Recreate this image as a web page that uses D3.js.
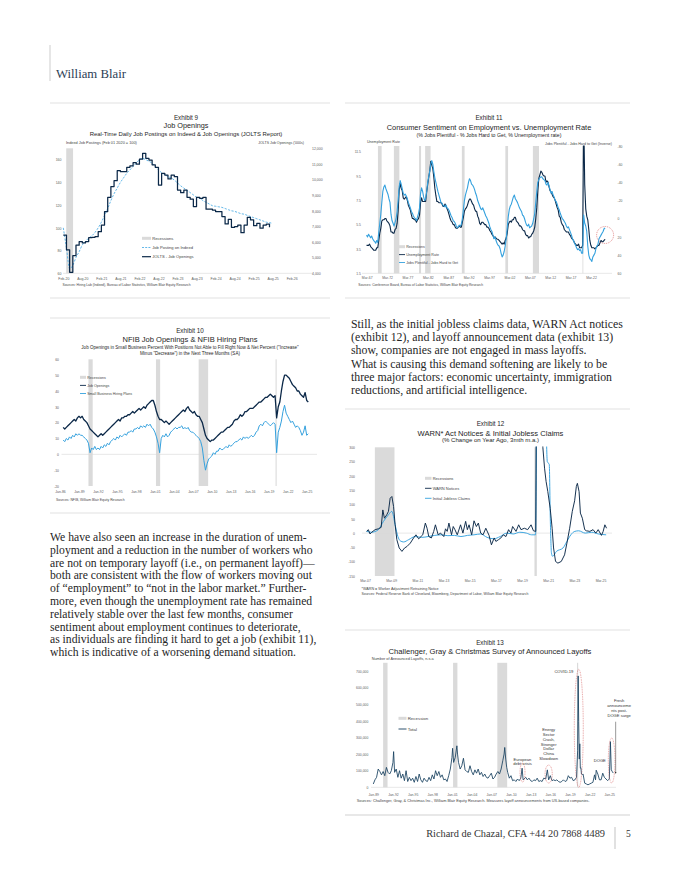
<!DOCTYPE html>
<html><head><meta charset="utf-8">
<script src="https://cdn.jsdelivr.net/npm/d3@7/dist/d3.min.js"></script>
<style>html,body{margin:0;padding:0;background:#fff;} svg{display:block}</style>
</head><body>
<svg id="page" width="680" height="880" viewBox="0 0 680 880"></svg>
<script>
// ================= DATA =================
// Exhibit 9 (monthly from Feb-2020)
const ex9Ticks = ['Feb-20','Aug-20','Feb-21','Aug-21','Feb-22','Aug-22','Feb-23','Aug-23','Feb-24','Aug-24','Feb-25','Aug-25','Feb-26'];
const ex9LeftTicks = [60,80,100,120,140,160];
const ex9RightTicks = [4000,5000,6000,7000,8000,9000,10000,11000,12000];
const ex9Start = 'Feb-20';
const ex9Jolts = [6450,5500,4060,5130,5800,6030,5940,6030,6280,6300,6340,6660,
  7090,7950,8860,9550,9930,10570,10500,10500,10780,10870,11080,10980,
  11300,11680,11360,11250,10940,10780,9650,10400,10290,10040,10290,10180,
  9330,9160,9330,8860,8740,8270,8860,8800,8860,8100,8100,8050,
  7950,7950,7630,7160,7450,6940,6990,7090,6600,7090,7580,7420,
  7050,7200,6890,7090,7150,6940];
const ex9Indeed = [100,82,64,67,74,79,85,88,91,93,96,100,
  105,111,117,124,130,135,140,144,148,151,154,157,
  160,161,160,158.5,157,154,151,148.5,147,145,144,142,
  139.5,137,135,133,131,129,127,126,124,122.5,121,119.5,
  119,118.5,118,117,116,115,114.5,113.5,112.5,112,111,110,
  109,108,107,106,105,104.5,104];
const ex9Recessions = [[2020.16, 2020.34]];

// Exhibit 11 (quarterly from 1967 Q1)
const ex11Ticks = ['Mar-67','Mar-72','Mar-77','Mar-82','Mar-87','Mar-92','Mar-97','Mar-02','Mar-07','Mar-12','Mar-17','Mar-22'];
const ex11LeftTicks = [1.5,3.5,5.5,7.5,9.5,11.5];
const ex11RightTicks = [-80,-60,-40,-20,0,20,40,60];
const ex11Start = 1967.125;
const ex11Unemp = [
 3.8,3.8,3.8,3.9, 3.7,3.6,3.5,3.4, 3.4,3.4,3.6,3.6, 4.2,4.8,5.2,5.8, 5.9,5.9,6.0,6.0,
 5.8,5.7,5.6,5.4, 4.9,4.9,4.8,4.8, 5.1,5.2,5.6,6.6, 8.3,8.9,8.5,8.3, 7.7,7.6,7.7,7.8,
 7.5,7.1,6.9,6.7, 6.3,6.0,6.0,5.9, 5.9,5.7,5.9,6.0, 6.3,7.3,7.7,7.4, 7.4,7.4,7.4,8.2,
 8.8,9.4,9.9,10.7, 10.4,10.1,9.4,8.5, 7.9,7.4,7.4,7.3, 7.3,7.3,7.2,7.0, 7.0,7.2,7.0,6.8,
 6.6,6.3,6.0,5.8, 5.7,5.5,5.5,5.3, 5.2,5.2,5.3,5.4, 5.3,5.3,5.7,6.1, 6.6,6.8,6.9,7.1,
 7.4,7.6,7.6,7.4, 7.2,7.1,6.8,6.6, 6.6,6.2,6.0,5.6, 5.5,5.7,5.7,5.6, 5.5,5.5,5.3,5.3,
 5.2,5.0,4.9,4.7, 4.6,4.4,4.5,4.4, 4.3,4.3,4.2,4.1, 4.0,3.9,4.0,3.9, 4.2,4.4,4.8,5.5,
 5.7,5.8,5.7,5.9, 5.9,6.1,6.1,5.8, 5.7,5.6,5.4,5.4, 5.3,5.1,5.0,5.0, 4.7,4.6,4.6,4.4,
 4.5,4.5,4.7,4.8, 5.0,5.3,6.0,6.9, 8.3,9.3,9.6,9.9, 9.8,9.6,9.5,9.5, 9.0,9.1,9.0,8.6,
 8.3,8.2,8.0,7.8, 7.7,7.5,7.2,6.9, 6.7,6.2,6.1,5.7, 5.5,5.4,5.1,5.0, 4.9,4.9,4.9,4.7,
 4.6,4.4,4.3,4.2, 4.0,3.9,3.8,3.8, 3.9,3.6,3.6,3.6, 3.8,14.8,8.8,6.8, 6.2,5.9,5.1,4.2,
 3.8,3.6,3.6,3.6, 3.5,3.6,3.7,3.8, 3.8,4.0,4.2,4.1, 4.1,4.2,4.3];
const ex11Diff = [
 18,20,17,19, 21,19,22,24, 25,27,24,26, 15,5,-5,-18, -30,-35,-37,-33,
 -30,-27,-22,-18, -5,2,5,8, 4,0,-8,-20, -35,-42,-38,-33, -28,-26,-27,-25,
 -22,-18,-15,-12, -8,-6,-3,-1, 0,2,-2,-6, -12,-28,-34,-30, -24,-20,-22,-30,
 -40,-46,-52,-60, -64,-60,-52,-45, -40,-35,-30,-26, -22,-18,-17,-15, -14,-13,-15,-12,
 -11,-9,-6,-3, -1,2,3,5, 8,10,9,7, 8,6,0,-10, -20,-26,-30,-34,
 -40,-44,-42,-38, -37,-35,-32,-28, -25,-20,-17,-14, -11,-10,-12,-9, -6,-3,-1,2,
 5,9,12,14, 18,22,20,24, 27,29,30,33, 38,42,40,36, 30,22,10,-2,
 -10,-14,-16,-20, -24,-26,-22,-20, -18,-15,-12,-10, -8,-4,-3,0, 4,7,8,6,
 10,9,8,5, 0,-6,-18,-30, -40,-43,-45,-46, -46,-44,-43,-42, -38,-37,-40,-36,
 -32,-28,-30,-26, -24,-20,-19,-16, -12,-10,-6,-3, 0,1,3,5, 8,10,9,12,
 15,18,22,24, 27,29,32,34, 33,35,34,38, 38,-4,5,8, 14,30,40,44,
 45,47,42,40, 38,33,30,28, 22,20,18,16, 14,11,10];
const ex11Recessions = [[1969.92,1970.83],[1973.83,1975.17],[1980.0,1980.5],[1981.5,1982.83],[1990.5,1991.17],[2001.17,2001.83],[2007.92,2009.42],[2020.08,2020.25]];

// Exhibit 10 (quarterly from mid-1986)
const ex10Ticks = ['Jan-86','Jan-89','Jan-92','Jan-95','Jan-98','Jan-01','Jan-04','Jan-07','Jan-10','Jan-13','Jan-16','Jan-19','Jan-22','Jan-25'];
const ex10YTicks = [-20,-10,0,10,20,30,40,50,60];
const ex10Start = 1986.5;
const ex10Openings = [17,16,
 17,18,19,20, 21,22,21,23, 24,23,24,22, 21,20,18,16, 15,14,13,12,
 11,12,13,12, 13,14,15,16, 17,18,19,20, 21,22,21,23, 23,24,24,25,
 25,26,27,26, 27,28,29,28, 29,30,29,31, 32,33,34,34, 31,27,24,22,
 22,21,20,21, 20,19,20,21, 22,23,24,25, 26,27,28,27, 29,30,28,27,
 26,27,25,24, 24,22,20,16, 12,10,9,8, 9,9,10,11, 12,13,14,14,
 15,16,17,17, 18,19,21,22, 22,23,25,24, 25,27,27,28, 29,29,29,30,
 31,32,33,33, 34,35,36,36, 37,38,37,36, 37,23,30,33, 40,46,50,50,
 49,48,46,44, 43,42,40,40, 38,37,36,39, 34,33];
const ex10Hiring = [9,8,
 10,9,11,10, 12,11,13,12, 13,12,12,11, 10,9,7,1, 4,3,5,3,
 4,3,5,4, 6,5,7,6, 8,9,10,9, 11,10,12,11, 12,13,12,14,
 14,15,14,16, 16,17,16,18, 17,18,17,19, 18,19,17,16, 14,11,7,1,
 10,12,11,13, 11,12,14,15, 16,17,16,17, 17,18,16,17, 16,17,15,14,
 14,13,12,11, 10,8,4,-4, -10,-6,-3,-2, -1,1,0,2, 2,4,3,3,
 4,5,4,6, 5,6,7,8, 8,9,10,9, 11,10,11,10, 11,12,11,12,
 14,15,18,19, 18,20,21,20, 19,18,19,20, 19,1,14,17, 21,27,31,26,
 24,22,20,21, 19,17,18,17, 15,12,14,18, 12,13];
const ex10Recessions = [[1990.5,1991.17],[2001.17,2001.83],[2007.92,2009.42],[2020.08,2020.25]];

// Exhibit 12
const ex12Ticks = ['Mar-07','Mar-09','Mar-11','Mar-13','Mar-15','Mar-17','Mar-19','Mar-21','Mar-23','Mar-25'];
const ex12YTicks = [-150,-100,-50,0,50,100,150,200,250,300];
const warnT = [
 2007.29,2007.42,2007.55,2007.68,2007.94,
 2008.19,2008.40,2008.53,2008.65,2008.83,2008.96,
 2009.09,2009.22,2009.35,2009.47,2009.60,2009.78,2009.99,
 2010.19,2010.37,2010.63,2010.88,
 2011.06,2011.27,2011.58,2011.78,2011.91,
 2012.04,2012.24,2012.42,2012.55,2012.76,2012.94,
 2013.19,2013.32,2013.45,2013.58,2013.78,2013.91,
 2014.04,2014.22,2014.47,2014.65,2014.86,2014.99,
 2015.12,2015.32,2015.50,2015.68,2015.83,
 2016.01,2016.19,2016.40,2016.65,2016.83,
 2017.04,2017.17,2017.37,2017.55,2017.73,2017.94,
 2018.14,2018.32,2018.45,2018.71,2018.91,
 2019.09,2019.35,2019.60,2019.86,
 2020.04,2020.22,2020.30,2020.45,2020.60,2020.76,2020.89,
 2021.01,2021.14,2021.32,2021.47,2021.58,2021.73,2021.91,
 2022.17,2022.42,2022.60,2022.81,
 2023.01,2023.19,2023.32,2023.40,2023.53,2023.63,2023.78,2023.96,
 2024.09,2024.35,2024.60,2024.81,2024.99,
 2025.24,2025.37,2025.50,2025.63];
const warnV = [
 6,12,-3,3,12,
 15,20,81,52,64,76,
 122,128,93,29,-23,-52,-64,
 -52,-47,-35,-17,
 -6,-20,-6,35,17,
 -12,-17,6,29,-6,0,
 -12,15,6,35,-6,23,
 12,-6,29,0,41,12,
 29,-6,43,23,35,
 0,-6,17,-8,-41,
 -17,-29,-23,-17,-6,-12,
 12,0,23,6,29,
 12,17,12,29,
 8,6,900,1400,800,300,227,
 180,145,87,17,-52,-99,-105,
 -99,-76,-35,17,
 76,113,163,174,145,70,52,12,
 8,6,12,0,12,
 -8,6,29,17];
const claimsT = [2007.29,2007.68, 2008.19,2008.58,2008.96, 2009.22,2009.47,2009.68,2009.86, 2010.12,2010.5,
 2011.0,2011.5, 2012.0,2012.5, 2013.0,2013.5, 2014.0,2014.5, 2015.0,2015.5, 2016.0,2016.5, 2017.0,2017.5,
 2018.0,2018.5, 2019.0,2019.5,2019.9, 2020.2,2020.3,2020.5,2020.8,
 2021.0,2021.1,2021.25,2021.33,2021.42,2021.5,2021.8, 2022.3,2022.6,2022.9, 2023.2,2023.5, 2024.0,2024.5, 2025.0,2025.6];
const claimsV = [6,3, 12,41,64, 76,29,-12,-27, -31,-23,
 -12,-15, -12,-8, -6,-9, -8,-12, -8,-6, -3,-15, -20,-12,
 0,-3, 3,0,-6, -6,500,1500,900,
 400,250,240,50,-70,-81,-64, -52,-29,-6, 6,8, 0,3, -3,-6];
const ex12Recessions = [[2007.92,2009.42],[2020.12,2020.3]];

// Exhibit 13 (announced layoffs, thousands)
const ex13Ticks = ['Jan-89','Jan-92','Jan-95','Jan-98','Jan-01','Jan-04','Jan-07','Jan-10','Jan-13','Jan-16','Jan-19','Jan-22','Jan-25'];
const ex13YTicks = [0,100000,200000,300000,400000,500000,600000,700000];
const chT = [
 1989.0,1989.25,1989.5,1989.75, 1990.0,1990.25,1990.5,1990.75, 1991.0,1991.25,1991.5,1991.75,
 1992.0,1992.1,1992.25,1992.5,1992.75, 1993.0,1993.25,1993.5,1993.75, 1994.0,1994.25,1994.5,1994.75,
 1995.0,1995.25,1995.5,1995.75, 1996.0,1996.25,1996.5,1996.75, 1997.0,1997.25,1997.5,1997.75,
 1998.0,1998.25,1998.5,1998.75, 1999.0,1999.25,1999.5,1999.75, 2000.0,2000.25,2000.5,2000.75,
 2001.0,2001.1,2001.25,2001.5,2001.75,2001.85, 2002.0,2002.25,2002.5,2002.75, 2003.0,2003.25,2003.5,2003.75,
 2004.0,2004.25,2004.5,2004.75, 2005.0,2005.25,2005.5,2005.75, 2006.0,2006.25,2006.5,2006.75,
 2007.0,2007.25,2007.5,2007.75, 2008.0,2008.25,2008.5,2008.75,2008.95, 2009.05,2009.2,2009.35,2009.5,2009.75,
 2010.0,2010.25,2010.5,2010.75, 2011.0,2011.25,2011.5,2011.7,2011.85, 2012.0,2012.25,2012.5,2012.75,
 2013.0,2013.25,2013.5,2013.75, 2014.0,2014.25,2014.5,2014.75, 2015.0,2015.3,2015.55,2015.75,
 2016.0,2016.25,2016.5,2016.75, 2017.0,2017.25,2017.5,2017.75, 2018.0,2018.25,2018.5,2018.75,
 2019.0,2019.25,2019.5,2019.75, 2020.0,2020.17,2020.25,2020.33,2020.42,2020.5,2020.58,2020.67,2020.75,2020.9,
 2021.0,2021.25,2021.5,2021.75, 2022.0,2022.25,2022.5,2022.75,2022.9, 2023.0,2023.25,2023.5,2023.75,
 2024.0,2024.25,2024.5,2024.75, 2025.0,2025.1,2025.17,2025.3,2025.45,2025.6];
const chV = [
 20,45,60,110, 95,75,95,70, 120,90,80,100,
 150,215,90,110,60, 100,55,80,40, 100,35,60,40,
 55,30,65,35, 80,45,30,55, 40,35,60,40,
 75,50,100,70, 95,60,75,45, 50,35,70,110,
 180,235,150,180,250,200, 150,110,130,175, 105,95,90,130,
 95,75,105,85, 110,75,90,65, 80,60,55,70,
 85,50,60,80, 95,80,110,160,200, 240,170,120,90,55,
 70,40,45,35, 50,40,55,115,45, 50,60,45,55,
 40,35,45,40, 55,35,40,35, 55,50,105,45,
 70,40,45,40, 45,35,30,35, 45,35,40,70,
 55,60,40,45, 60,220,671,397,170,262,115,118,80,77,
 80,25,20,15, 20,25,30,75,45, 103,80,45,45,
 85,60,50,40, 50,170,275,105,95,86];
const ex13Recessions = [[1990.5,1991.17],[2001.17,2001.83],[2007.92,2009.42],[2020.08,2020.25]];
const ex13Notes = [
 {lines:['European','debt crisis'], t0:2011.38, t1:2012.14, v0:32000, v1:146000, pos:'top'},
 {lines:['Energy','Sector','Crash,','Stronger','Dollar','China','Slowdown'], t0:2015.2, t1:2016.3, v0:26000, v1:134000, pos:'above'},
 {lines:['COVID-19'], t0:2019.66, t1:2021.03, v0:0, v1:711000, pos:'lefttop'},
 {lines:['DOGE'], t0:2024.85, t1:2025.87, v0:26000, v1:297000, pos:'left'}
];
const ex13Fresh = {lines:['Fresh','announceme','nts post-','DOGE surge'], t:2025.97, vFrom:395000, vTo:84000};

// ================= DRAWING =================
const svg = d3.select('#page');
const SANS = '"Liberation Sans", Arial, Helvetica, sans-serif';
const SERIF = '"Liberation Serif", "Times New Roman", serif';
const NAVY = '#0b2848', LBLUE = '#34a1de', REC = '#dadada', TICK = '#606060', INK = '#262626';
const monthIdx = {Jan:0,Feb:1,Mar:2,Apr:3,May:4,Jun:5,Jul:6,Aug:7,Sep:8,Oct:9,Nov:10,Dec:11};
function lblYear(s){ const p = s.split('-'); let y = +p[1]; y += y > 50 ? 1900 : 2000; return y + monthIdx[p[0]]/12; }

function T(g, x, y, s, fs, o = {}) {
  const t = g.append('text').attr('x', x).attr('y', y).text(s).attr('font-size', fs)
    .attr('font-family', o.ff || SANS).attr('fill', o.fill || INK).attr('text-anchor', o.anchor || 'start');
  if (o.weight) t.attr('font-weight', o.weight);
  if (o.w) { const w = t.node().getComputedTextLength(); if (w > 0) t.attr('font-size', fs * o.w / w); }
  return t;
}
function hline(x0, x1, y, c, w) { svg.append('line').attr('x1', x0).attr('x2', x1).attr('y1', y).attr('y2', y).attr('stroke', c || '#cfcfcf').attr('stroke-width', w || 0.6); }
function recBands(g, x, recs, yTop, yBot) {
  g.append('g').selectAll('rect').data(recs).join('rect')
    .attr('x', d => x(d[0])).attr('width', d => Math.max(0.8, x(d[1]) - x(d[0])))
    .attr('y', yTop).attr('height', yBot - yTop).attr('fill', REC);
}
function xAxisAt(g, x, labels, yPos, fs) {
  const vals = labels.map(lblYear);
  const ax = d3.axisBottom(x).tickValues(vals).tickFormat(v => labels[vals.indexOf(v)]).tickSize(0).tickPadding(0);
  const a = g.append('g').attr('transform', `translate(0,${yPos})`).call(ax);
  a.select('.domain').remove();
  a.selectAll('text').attr('y', 0).attr('dy', 0).attr('font-size', fs).attr('font-family', SANS).attr('fill', TICK);
}
function yAxisAt(g, y, vals, xPos, fs, side, fmt) {
  const ax = (side === 'left' ? d3.axisLeft(y) : d3.axisRight(y)).tickValues(vals).tickFormat(fmt || (d => d)).tickSize(0).tickPadding(0);
  const a = g.append('g').attr('transform', `translate(${xPos},0)`).call(ax);
  a.select('.domain').remove();
  a.selectAll('text').attr('x', 0).attr('dy', '0.35em').attr('font-size', fs).attr('font-family', SANS).attr('fill', TICK);
}
let clipN = 0;
function clipRect(x0, y0, x1, y1) {
  const id = 'c' + (clipN++);
  svg.append('clipPath').attr('id', id).append('rect').attr('x', x0).attr('y', y0).attr('width', x1 - x0).attr('height', y1 - y0);
  return id;
}
function path(g, pts, x, y, color, w, opt = {}) {
  const ln = d3.line().x(d => x(d[0])).y(d => y(d[1])).curve(opt.curve || d3.curveLinear);
  const p = g.append('path').datum(pts).attr('d', ln).attr('fill', 'none').attr('stroke', color)
    .attr('stroke-width', w).attr('stroke-linejoin', 'round');
  if (opt.dash) p.attr('stroke-dasharray', opt.dash);
  if (opt.clip) p.attr('clip-path', `url(#${opt.clip})`);
  return p;
}
function legend(g, x, y0, dy, items, fs, sw) {
  items.forEach((it, i) => {
    const y = y0 + i * dy, w = sw || 8;
    if (it.type === 'rect') g.append('rect').attr('x', x).attr('y', y - 1.5).attr('width', w).attr('height', 3).attr('fill', REC);
    else {
      const l = g.append('line').attr('x1', x).attr('x2', x + w).attr('y1', y).attr('y2', y).attr('stroke', it.color).attr('stroke-width', it.sw || 0.9);
      if (it.dash) l.attr('stroke-dasharray', it.dash);
    }
    T(g, x + w + 1.2, y + fs * 0.36, it.label, fs, {fill: '#444'});
  });
}
const ser = (start, step, arr) => arr.map((v, i) => [start + i * step, v]);

// ---------- Header / footer ----------
svg.append('line').attr('x1', 50).attr('x2', 50).attr('y1', 45).attr('y2', 81).attr('stroke', '#b8b8b8').attr('stroke-width', 0.7);
T(svg, 56, 78, 'William Blair', 11.5, {ff: SERIF, fill: '#2c3e55', w: 70});
hline(345, 630, 815, '#bdbdbd', 0.7);
T(svg, 605, 837, 'Richard de Chazal, CFA  +44 20 7868 4489', 9.5, {ff: SERIF, fill: '#333', anchor: 'end', w: 179});
svg.append('line').attr('x1', 615).attr('x2', 615).attr('y1', 827).attr('y2', 849).attr('stroke', '#9a9a9a').attr('stroke-width', 0.6);
T(svg, 626, 837, '5', 9.5, {ff: SERIF, fill: '#333'});

// frame lines
hline(50, 330, 103); hline(345, 630, 103);
hline(50, 330, 298); hline(345, 630, 298);
hline(50, 330, 318); hline(50, 330, 513);
hline(345, 630, 409); hline(345, 630, 630);

// ---------- Body text ----------
const leftPara = [
 'We have also seen an increase in the duration of unem-',
 'ployment and a reduction in the number of workers who',
 'are not on temporary layoff (i.e., on permanent layoff)\u2014',
 'both are consistent with the flow of workers moving out',
 'of \u201cemployment\u201d to \u201cnot in the labor market.\u201d Further-',
 'more, even though the unemployment rate has remained',
 'relatively stable over the last few months, consumer',
 'sentiment about employment continues to deteriorate,',
 'as individuals are finding it hard to get a job (exhibit 11),',
 'which is indicative of a worsening demand situation.'];
const rightPara = [
 'Still, as the initial jobless claims data, WARN Act notices',
 '(exhibit 12), and layoff announcement data (exhibit 13)',
 'show, companies are not engaged in mass layoffs.',
 'What is causing this demand softening are likely to be',
 'three major factors: economic uncertainty, immigration',
 'reductions, and artificial intelligence.'];
function para(lines, x, y0, dy, targetW) {
  const first = T(svg, x, y0, lines[0], 11, {ff: SERIF, fill: '#262626', w: targetW});
  const fs = +first.attr('font-size');
  lines.slice(1).forEach((s, i) => T(svg, x, y0 + (i + 1) * dy, s, fs, {ff: SERIF, fill: '#262626'}));
}
para(leftPara, 50, 541, 12.8, 257);
para(rightPara, 351, 327.7, 13.3, 272);

// ---------- Exhibit 9 ----------
(function(){
  const g = svg.append('g');
  const x = d3.scaleLinear().domain([lblYear('Feb-20'), lblYear('Feb-26')]).range([63.3, 291.7]);
  const yL = d3.scaleLinear().domain([60, 170]).range([273.3, 148.3]);
  const yR = d3.scaleLinear().domain([4000, 12000]).range([273.3, 148.3]);
  T(g, 186, 120, 'Exhibit 9', 6.3, {anchor: 'middle'});
  T(g, 186, 128.4, 'Job Openings', 7.4, {anchor: 'middle', w: 45});
  T(g, 186, 135.5, 'Real-Time Daily Job Postings on Indeed & Job Openings (JOLTS Report)', 5.6, {anchor: 'middle', w: 193});
  T(g, 66, 143.5, 'Indeed Job Postings (Feb 01 2020 = 100)', 3.5, {fill: '#444', w: 71});
  T(g, 304, 144, "JOLTS Job Openings ('000s)", 3.5, {fill: '#444', anchor: 'end', w: 46});
  recBands(g, x, ex9Recessions, 148.3, 273.3);
  g.append('line').attr('x1', 63).attr('x2', 313).attr('y1', 273.3).attr('y2', 273.3).attr('stroke', '#d6d6d6').attr('stroke-width', 0.6);
  yAxisAt(g, yL, ex9LeftTicks, 61.5, 3.5, 'left');
  yAxisAt(g, yR, ex9RightTicks, 312, 3.5, 'right', d3.format(','));
  xAxisAt(g, x, ex9Ticks, 279.6, 3.5);
  const t0 = lblYear(ex9Start);
  path(g, ser(t0, 1/12, ex9Indeed), x, yL, '#52b0e6', 0.9, {dash: '2.2,1.4', curve: d3.curveMonotoneX});
  path(g, ser(t0, 1/12, ex9Jolts), x, yR, NAVY, 1.25, {curve: d3.curveStepAfter});
  legend(g, 142, 238.3, 9.2, [
    {type: 'rect', label: 'Recessions'},
    {color: '#52b0e6', dash: '2,1.2', label: 'Job Posting on Indeed'},
    {color: NAVY, sw: 1.2, label: 'JOLTS - Job Openings'}], 4.1, 9);
  T(g, 62.5, 285.5, 'Sources: Hiring Lab (Indeed), Bureau of Labor Statistics, William Blair Equity Research', 3.3, {fill: '#444', w: 128});
})();

// ---------- Exhibit 11 ----------
(function(){
  const g = svg.append('g');
  const x = d3.scaleLinear().domain([lblYear('Mar-67'), lblYear('Mar-22')]).range([366.7, 591]);
  const yL = d3.scaleLinear().domain([1.5, 12]).range([273.3, 145.6]);
  const yR = d3.scaleLinear().domain([-80, 60]).range([146, 273.3]);
  T(g, 489, 120, 'Exhibit 11', 6.3, {anchor: 'middle'});
  T(g, 489, 130, 'Consumer Sentiment on Employment vs. Unemployment Rate', 7.5, {anchor: 'middle', w: 205});
  T(g, 489, 136.6, '(% Jobs Plentiful - % Jobs Hard to Get, % Unemployment rate)', 4.8, {anchor: 'middle', w: 145});
  T(g, 367, 143, 'Unemployment Rate', 3.4, {fill: '#444', w: 33});
  T(g, 612, 144.5, 'Jobs Plentiful - Jobs Hard to Get (Inverse)', 3.4, {fill: '#444', anchor: 'end', w: 67});
  const cid = clipRect(362, 145.6, 612, 274);
  recBands(g, x, ex11Recessions, 146, 273.3);
  g.append('line').attr('x1', 362).attr('x2', 612).attr('y1', 273.3).attr('y2', 273.3).attr('stroke', '#d6d6d6').attr('stroke-width', 0.6);
  yAxisAt(g, yL, ex11LeftTicks, 361, 3.4, 'left', d3.format('.1f'));
  yAxisAt(g, yR, ex11RightTicks, 617.5, 3.4, 'right');
  xAxisAt(g, x, ex11Ticks, 279.3, 3.4);
  path(g, ser(ex11Start, 0.25, ex11Unemp), x, yL, NAVY, 1.1, {clip: cid});
  path(g, ser(ex11Start, 0.25, ex11Diff), x, yR, LBLUE, 1.1, {clip: cid});
  const last = ex11Unemp.length - 1;
  g.append('ellipse').attr('cx', x(ex11Start + last * 0.25)).attr('cy', yL(4.65)).attr('rx', 8.5).attr('ry', 8.5)
    .attr('fill', 'none').attr('stroke', '#d24b4b').attr('stroke-width', 0.6).attr('stroke-dasharray', '1,0.9');
  legend(g, 399, 246.7, 7.9, [
    {type: 'rect', label: 'Recessions'},
    {color: NAVY, label: 'Unemployment Rate'},
    {color: LBLUE, label: 'Jobs Plentiful - Jobs Hard to Get'}], 3.6, 6);
  T(g, 358.3, 286, 'Sources: Conference Board, Bureau of Labor Statistics, William Blair Equity Research', 3.3, {fill: '#444', w: 125});
})();

// ---------- Exhibit 10 ----------
(function(){
  const g = svg.append('g');
  const x = d3.scaleLinear().domain([lblYear('Jan-86'), lblYear('Jan-25')]).range([60, 306.7]);
  const y = d3.scaleLinear().domain([-20, 60]).range([486, 359.3]);
  T(g, 190, 332.7, 'Exhibit 10', 6.3, {anchor: 'middle'});
  T(g, 190, 342.4, 'NFIB Job Openings & NFIB Hiring Plans', 7.4, {anchor: 'middle', w: 135});
  T(g, 190, 349.4, 'Job Openings in Small Business Percent With Positions Not Able to Fill Right Now & Net Percent ("Increase"', 4.3, {anchor: 'middle', w: 218});
  T(g, 190, 354.6, 'Minus "Decrease") in the Next Three Months (SA)', 4.3, {anchor: 'middle', w: 100});
  recBands(g, x, ex10Recessions, 359.3, 486);
  g.append('line').attr('x1', 61.5).attr('x2', 317).attr('y1', y(0)).attr('y2', y(0)).attr('stroke', '#d6d6d6').attr('stroke-width', 0.6);
  yAxisAt(g, y, ex10YTicks, 59, 3.4, 'left');
  xAxisAt(g, x, ex10Ticks, 493, 3.4);
  path(g, ser(ex10Start, 0.25, ex10Hiring), x, y, LBLUE, 1.0);
  path(g, ser(ex10Start, 0.25, ex10Openings), x, y, NAVY, 1.3);
  legend(g, 80, 377.3, 8.1, [
    {type: 'rect', label: 'Recessions'},
    {color: NAVY, label: 'Job Openings'},
    {color: LBLUE, label: 'Small Business Hiring Plans'}], 3.6, 6);
  T(g, 56, 501.4, 'Sources: NFIB, William Blair Equity Research', 3.3, {fill: '#444', w: 69});
})();

// ---------- Exhibit 12 ----------
(function(){
  const g = svg.append('g');
  const x = d3.scaleLinear().domain([lblYear('Mar-07'), lblYear('Mar-25')]).range([365, 600.5]);
  const y = d3.scaleLinear().domain([-150, 300]).range([576, 447.3]);
  T(g, 490.5, 425.7, 'Exhibit 12', 6.3, {anchor: 'middle'});
  T(g, 490.5, 435.7, 'WARN* Act Notices & Initial Jobless Claims', 7.4, {anchor: 'middle', w: 146});
  T(g, 490.5, 442.4, '(% Change on Year Ago, 3mth m.a.)', 5.2, {anchor: 'middle', w: 97});
  const cid = clipRect(360, 446.5, 615, 577);
  recBands(g, x, ex12Recessions, 447.3, 576);
  g.append('line').attr('x1', 362).attr('x2', 612).attr('y1', y(0)).attr('y2', y(0)).attr('stroke', '#d6d6d6').attr('stroke-width', 0.6);
  yAxisAt(g, y, ex12YTicks, 355, 3.4, 'left');
  xAxisAt(g, x, ex12Ticks, 582, 3.4);
  path(g, d3.zip(claimsT, claimsV), x, y, LBLUE, 0.95, {clip: cid, curve: d3.curveMonotoneX});
  path(g, d3.zip(warnT, warnV), x, y, NAVY, 0.95, {clip: cid});
  legend(g, 425, 478.3, 10, [
    {type: 'rect', label: 'Recessions'},
    {color: NAVY, label: 'WARN Notices'},
    {color: LBLUE, label: 'Initial Jobless Claims'}], 4.0, 6.5);
  T(g, 361.5, 590, '*WARN = Worker Adjustment Retraining Notice', 3.2, {fill: '#444', w: 77});
  T(g, 361.5, 594.6, 'Sources: Federal Reserve Bank of Cleveland, Bloomberg, Department of Labor, William Blair Equity Research', 3.2, {fill: '#444', w: 167});
})();

// ---------- Exhibit 13 ----------
(function(){
  const g = svg.append('g');
  const x = d3.scaleLinear().domain([lblYear('Jan-89'), lblYear('Jan-25')]).range([373.3, 609.3]);
  const y = d3.scaleLinear().domain([0, 750000]).range([787.3, 662.8]);
  T(g, 490, 645, 'Exhibit 13', 6.3, {anchor: 'middle'});
  T(g, 490, 654.4, 'Challenger, Gray & Christmas Survey of Announced Layoffs', 7.4, {anchor: 'middle', w: 203});
  T(g, 371.7, 660.2, 'Number of Announced Layoffs, n.s.a', 3.3, {fill: '#444', w: 62});
  recBands(g, x, ex13Recessions, 662.8, 787.3);
  g.append('line').attr('x1', 371).attr('x2', 616).attr('y1', 787.3).attr('y2', 787.3).attr('stroke', '#d6d6d6').attr('stroke-width', 0.6);
  yAxisAt(g, y, ex13YTicks, 368.3, 3.4, 'left', d3.format(','));
  xAxisAt(g, x, ex13Ticks, 795.5, 3.4);
  path(g, d3.zip(chT, chV.map(v => v * 1000)), x, y, '#17405f', 0.85);
  // annotations
  ex13Notes.forEach(n => {
    const cx = (x(n.t0) + x(n.t1)) / 2, cy = (y(n.v0) + y(n.v1)) / 2;
    const rx = (x(n.t1) - x(n.t0)) / 2, ry = (y(n.v0) - y(n.v1)) / 2;
    g.append('ellipse').attr('cx', cx).attr('cy', cy).attr('rx', rx).attr('ry', ry)
      .attr('fill', 'none').attr('stroke', '#d24b4b').attr('stroke-width', 0.55).attr('stroke-dasharray', '0.9,0.8');
    const top = y(n.v1), fs = 4.1, lh = 4.85;
    if (n.pos === 'above') n.lines.forEach((s, i) => T(g, cx, top - 5 - (n.lines.length - 1 - i) * lh, s, fs, {anchor: 'middle', fill: '#333'}));
    if (n.pos === 'top') n.lines.forEach((s, i) => T(g, cx, top - 2.5 + i * 4.5, s, fs, {anchor: 'middle', fill: '#333'}));
    if (n.pos === 'lefttop') T(g, cx - rx - 1, top + 3.5, n.lines[0], fs, {anchor: 'end', fill: '#333'});
    if (n.pos === 'left') T(g, cx - rx - 2.5, cy + 1.5, n.lines[0], fs, {anchor: 'end', fill: '#333'});
  });
  const fx = x(ex13Fresh.t), fy0 = y(ex13Fresh.vFrom), fy1 = y(ex13Fresh.vTo);
  ex13Fresh.lines.forEach((s, i) => T(g, fx + 3.5, fy0 - 20 + i * 5, s, 4.1, {anchor: 'middle', fill: '#333'}));
  svg.append('defs').append('marker').attr('id', 'arr').attr('viewBox', '0 0 6 6').attr('refX', 5).attr('refY', 3)
    .attr('markerWidth', 4).attr('markerHeight', 4).attr('orient', 'auto')
    .append('path').attr('d', 'M0,0L6,3L0,6Z').attr('fill', '#333');
  g.append('line').attr('x1', fx).attr('x2', fx).attr('y1', fy0).attr('y2', fy1).attr('stroke', '#333').attr('stroke-width', 0.5).attr('marker-end', 'url(#arr)');
  legend(g, 398.5, 718.3, 10.7, [
    {type: 'rect', label: 'Recession'},
    {color: '#17405f', label: 'Total'}], 4.4, 8);
  T(g, 356.7, 801.6, 'Sources: Challenger, Gray, & Christmas Inc., William Blair Equity Research. Measures layoff announcements from US-based companies.', 3.2, {fill: '#444', w: 233});
})();
</script>
</body></html>
